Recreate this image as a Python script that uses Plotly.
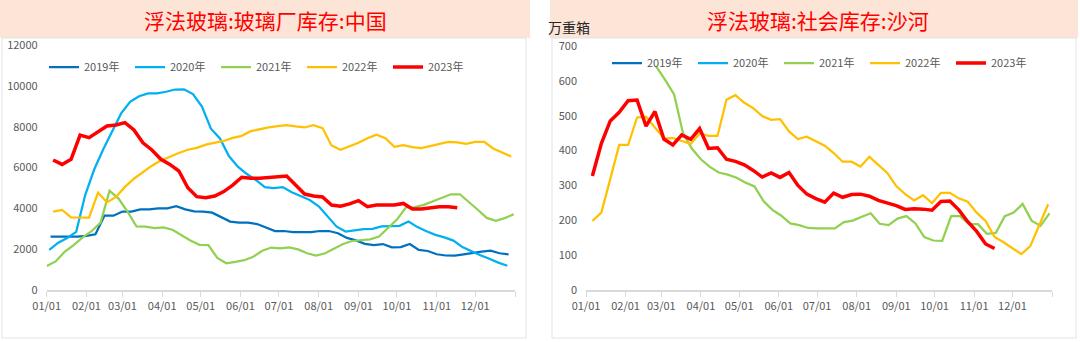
import pandas as pd
import plotly.graph_objects as go

# ---------------- data ----------------
SERIES_NAMES = ["2019年", "2020年", "2021年", "2022年", "2023年"]
SERIES_COLORS = ["#0070C0", "#00B0F0", "#92D050", "#FFC000", "#FF0000"]
SERIES_WIDTHS = [2.25, 2.25, 2.25, 2.25, 3.5]

MONTH_TICKS = ["2023-%02d-01" % m for m in range(1, 13)] + ["2024-01-01"]
MONTH_LABELS = ["01/01", "02/01", "03/01", "04/01", "05/01", "06/01",
                "07/01", "08/01", "09/01", "10/01", "11/01", "12/01", ""]

LEFT_Y_TICKS = [0, 2000, 4000, 6000, 8000, 10000, 12000]
RIGHT_Y_TICKS = [0, 100, 200, 300, 400, 500, 600, 700]

# 浮法玻璃:玻璃厂库存:中国 (weekly, first report date of each year)
factory_2019_start = "2023-01-04"
factory_2019 = [2610, 2610, 2610, 2610, 2650, 2730, 3640, 3640, 3840, 3840,
                3950, 3950, 4000, 4000, 4110, 3950, 3850, 3840, 3790, 3550,
                3350, 3300, 3300, 3230, 3050, 2890, 2890, 2840, 2830, 2830,
                2890, 2890, 2780, 2550, 2430, 2260, 2200, 2250, 2090, 2100,
                2250, 1960, 1910, 1750, 1690, 1680, 1750, 1830, 1880, 1930,
                1800, 1750]
factory_2020_start = "2023-01-03"
factory_2020 = [1960, 2320, 2550, 2850, 4650, 5900, 6880, 7800, 8650, 9220,
                9490, 9630, 9630, 9710, 9820, 9830, 9600, 8980, 7900, 7420,
                6560, 6040, 5680, 5390, 5040, 4990, 5040, 4790, 4600, 4410,
                4100, 3600, 3100, 2860, 2930, 2980, 2990, 3120, 3130, 3140,
                3350, 3080, 2880, 2700, 2580, 2420, 2100, 1880, 1700, 1530,
                1340, 1190]
factory_2021_start = "2023-01-01"
factory_2021 = [1180, 1400, 1870, 2200, 2580, 2880, 3300, 4860, 4480, 3840,
                3110, 3100, 3030, 3070, 2950, 2680, 2430, 2210, 2200, 1570,
                1310, 1380, 1460, 1630, 1920, 2080, 2040, 2090, 1990, 1800,
                1680, 1800, 2040, 2250, 2400, 2450, 2480, 2620, 3050, 3450,
                4050, 4060, 4170, 4340, 4490, 4690, 4690, 4320, 3930, 3530,
                3390, 3520, 3710]
factory_2022_start = "2023-01-06"
factory_2022 = [3840, 3920, 3560, 3540, 3540, 4770, 4290, 4560, 5050, 5450,
                5760, 6090, 6340, 6540, 6710, 6870, 6960, 7120, 7210, 7300,
                7450, 7550, 7780, 7880, 7960, 8030, 8080, 8010, 7960, 8070,
                7930, 7080, 6870, 7040, 7210, 7430, 7610, 7430, 7010, 7090,
                7000, 6950, 7040, 7140, 7250, 7230, 7160, 7250, 7260, 6930,
                6720, 6540]
factory_2023_start = "2023-01-06"
factory_2023 = [6370, 6150, 6400, 7590, 7460, 7750, 8030, 8080, 8200, 7840,
                7210, 6860, 6400, 6150, 5830, 5010, 4570, 4520, 4600, 4820,
                5140, 5520, 5470, 5470, 5500, 5550, 5580, 5140, 4700, 4600,
                4560, 4160, 4100, 4220, 4380, 4080, 4160, 4160, 4160, 4240,
                3970, 3970, 4030, 4080, 4080, 4030]

# 浮法玻璃:社会库存:沙河 (万重箱)
shahe_2021_start = "2023-02-25"
shahe_2021 = [641, 603, 561, 450, 405, 375, 353, 337, 331, 322,
              308, 297, 255, 230, 213, 191, 186, 178, 177, 177,
              177, 195, 199, 210, 220, 190, 186, 205, 212, 191,
              152, 142, 141, 212, 212, 189, 189, 161, 164, 212,
              222, 247, 199, 184, 220]
shahe_2022_start = "2023-01-06"
shahe_2022 = [198, 222, 318, 416, 416, 495, 497, 466, 435, 436,
              428, 419, 449, 442, 442, 546, 559, 537, 522, 499,
              488, 490, 455, 433, 440, 428, 414, 393, 368, 368,
              354, 382, 360, 336, 298, 275, 257, 272, 249, 279,
              279, 263, 253, 222, 198, 152, 137, 119, 103, 126,
              186, 246]
shahe_2023_start = "2023-01-06"
shahe_2023 = [327, 420, 485, 510, 543, 545, 470, 512, 433, 416,
              445, 432, 463, 406, 408, 375, 369, 359, 343, 324,
              336, 323, 337, 300, 275, 262, 252, 278, 266, 274,
              275, 269, 257, 250, 242, 231, 233, 232, 229, 254,
              255, 230, 196, 168, 132, 119]

LEFT_TITLE = "浮法玻璃:玻璃厂库存:中国"
RIGHT_TITLE = "浮法玻璃:社会库存:沙河"
RIGHT_UNIT = "万重箱"

left_series = [
    (factory_2019_start, factory_2019),
    (factory_2020_start, factory_2020),
    (factory_2021_start, factory_2021),
    (factory_2022_start, factory_2022),
    (factory_2023_start, factory_2023),
]
right_series = [
    (None, None),
    (None, None),
    (shahe_2021_start, shahe_2021),
    (shahe_2022_start, shahe_2022),
    (shahe_2023_start, shahe_2023),
]

# ---------------- figure ----------------
W, H = 1080, 342
FONT = "Noto Sans CJK SC"
GRAY = "#595959"
AXIS_GRAY = "#D9D9D9"


def px_x(p):
    return p / W


def px_y(p):
    return (H - p) / H


def weekly(start, values):
    if start is None:
        return ["2023-06-01"], [None]
    dates = pd.date_range(start, periods=len(values), freq="7D")
    return list(dates), values


fig = go.Figure()

for i, (start, vals) in enumerate(left_series):
    x, y = weekly(start, vals)
    fig.add_trace(go.Scatter(
        x=x, y=y, mode="lines", name=SERIES_NAMES[i],
        line=dict(color=SERIES_COLORS[i], width=SERIES_WIDTHS[i]),
        xaxis="x", yaxis="y", legend="legend", hoverinfo="skip",
    ))

for i, (start, vals) in enumerate(right_series):
    x, y = weekly(start, vals)
    fig.add_trace(go.Scatter(
        x=x, y=y, mode="lines", name=SERIES_NAMES[i],
        line=dict(color=SERIES_COLORS[i], width=SERIES_WIDTHS[i]),
        xaxis="x2", yaxis="y2", legend="legend2", hoverinfo="skip",
    ))

xaxis_common = dict(
    type="date", range=["2023-01-01", "2024-01-01"],
    tickmode="array", tickvals=MONTH_TICKS, ticktext=MONTH_LABELS,
    ticks="outside", ticklen=5, tickcolor=AXIS_GRAY, tickwidth=1,
    showline=True, linecolor=AXIS_GRAY, linewidth=1.5,
    showgrid=False, zeroline=False, automargin=False,
    tickfont=dict(family=FONT, size=11, color=GRAY),
)
yaxis_common = dict(
    showline=False, ticks="", showgrid=False, zeroline=False,
    automargin=False, tickformat="d",
    tickfont=dict(family=FONT, size=11, color=GRAY),
    ticklabelstandoff=8,
)

legend_common = dict(
    orientation="h", xanchor="left", yanchor="middle",
    font=dict(family=FONT, size=11, color=GRAY),
    bgcolor="rgba(0,0,0,0)", itemwidth=30, entrywidth=41,
    tracegroupgap=0,
)

fig.update_layout(
    width=W, height=H,
    margin=dict(l=0, r=0, t=0, b=0, autoexpand=False),
    paper_bgcolor="white", plot_bgcolor="white",
    showlegend=True,
    xaxis=dict(domain=[px_x(46.7), px_x(515)], anchor="y", **xaxis_common),
    yaxis=dict(domain=[px_y(290), px_y(45)], anchor="x", range=[0, 12000],
               tickmode="array", tickvals=LEFT_Y_TICKS, **yaxis_common),
    xaxis2=dict(domain=[px_x(586), px_x(1052)], anchor="y2", **xaxis_common),
    yaxis2=dict(domain=[px_y(290), px_y(46)], anchor="x2", range=[0, 700],
                tickmode="array", tickvals=RIGHT_Y_TICKS, **yaxis_common),
    legend=dict(x=px_x(44), y=px_y(67), **legend_common),
    legend2=dict(x=px_x(607), y=px_y(63), **legend_common),
)

# title bands and panel frames
fig.add_shape(type="rect", xref="paper", yref="paper", layer="below",
              x0=px_x(0), x1=px_x(530), y0=px_y(38), y1=px_y(0),
              fillcolor="#FCE4D6", line=dict(width=0))
fig.add_shape(type="rect", xref="paper", yref="paper", layer="below",
              x0=px_x(550), x1=px_x(1078), y0=px_y(38), y1=px_y(0),
              fillcolor="#FCE4D6", line=dict(width=0))
fig.add_shape(type="rect", xref="paper", yref="paper", layer="below",
              x0=px_x(2), x1=px_x(526), y0=px_y(338), y1=px_y(38),
              fillcolor="rgba(0,0,0,0)", line=dict(color="#E3E3E3", width=1))
fig.add_shape(type="rect", xref="paper", yref="paper", layer="below",
              x0=px_x(552), x1=px_x(1076), y0=px_y(338), y1=px_y(38),
              fillcolor="rgba(0,0,0,0)", line=dict(color="#E3E3E3", width=1))

fig.add_annotation(text=LEFT_TITLE, xref="paper", yref="paper",
                   x=px_x(265), y=px_y(20), xanchor="center", yanchor="middle",
                   showarrow=False, font=dict(family=FONT, size=21, color="#FF0000"))
fig.add_annotation(text=RIGHT_TITLE, xref="paper", yref="paper",
                   x=px_x(818), y=px_y(20), xanchor="center", yanchor="middle",
                   showarrow=False, font=dict(family=FONT, size=21, color="#FF0000"))
fig.add_annotation(text=RIGHT_UNIT, xref="paper", yref="paper",
                   x=px_x(547), y=px_y(38), xanchor="left", yanchor="bottom",
                   showarrow=False, borderpad=0,
                   font=dict(family=FONT, size=14, color="#262626"))

fig.write_html("out.html")
